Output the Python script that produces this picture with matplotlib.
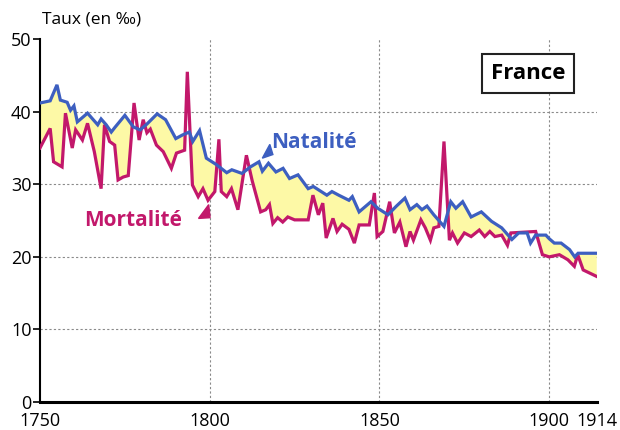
import numpy as np
import matplotlib.pyplot as plt
from matplotlib.patches import Polygon

# Natalité (taux en pour mille)
nat_years = [1750, 1753, 1755, 1756, 1758, 1759, 1760, 1761, 1764, 1767, 1768, 1769.5,
             1771, 1772, 1775, 1777.5, 1779.5, 1781.5, 1784.5, 1787, 1790, 1792, 1794,
             1795, 1797, 1799, 1802, 1805, 1806.5, 1809.5, 1812, 1814.5, 1815.5, 1817.3,
             1819.5, 1821.6, 1823.5, 1826, 1829, 1830.5, 1834.5, 1836, 1838, 1841, 1842,
             1844, 1847.5, 1849.5, 1852.5, 1855, 1857.5, 1859, 1861, 1862.5, 1864, 1866,
             1869, 1871, 1872.5, 1874.5, 1877, 1880, 1883, 1886, 1889, 1891, 1893.5,
             1894.5, 1896, 1899, 1900, 1901.5, 1903.5, 1906, 1907.5, 1908.5, 1914]
nat_vals = [41.2, 41.5, 43.7, 41.6, 41.3, 40.2, 40.8, 38.6, 39.8, 38.2, 39.0, 38.2,
            37.2, 37.8, 39.5, 37.9, 37.5, 38.3, 39.7, 38.9, 36.3, 36.8, 37.2,
            35.9, 37.4, 33.6, 32.7, 31.6, 32.0, 31.5, 32.4, 33.1, 31.8, 32.9,
            31.7, 32.2, 30.8, 31.3, 29.4, 29.7, 28.5, 29.0, 28.5, 27.8, 28.3,
            26.2, 27.6, 26.7, 25.8, 27.0, 28.1, 26.5, 27.2, 26.5, 27.0, 25.8,
            24.2, 27.6, 26.7, 27.6, 25.5, 26.2, 24.9, 24.0, 22.4, 23.3, 23.3,
            21.9, 23.0, 23.0, 22.5, 21.9, 21.9, 21.0, 20.0, 20.5, 20.5]

# Mortalité (taux en pour mille)
mor_years = [1750, 1753, 1754, 1756.5, 1757.5, 1759.5, 1760.5, 1762.5, 1764, 1766, 1768,
             1769, 1770.5, 1772, 1773, 1774.5, 1776, 1777.7, 1779.2, 1780.4, 1781.5,
             1782.5, 1784.3, 1786.3, 1788.7, 1790.2, 1792.6, 1793.4, 1794.9, 1796.6,
             1798, 1799.5, 1801.5, 1802.7, 1803.4, 1805, 1806.4, 1808.3, 1810.8, 1812.5,
             1815, 1816.5, 1817.6, 1818.6, 1820, 1821.5, 1823, 1825, 1829, 1830.4, 1832,
             1833.3, 1834.3, 1836.3, 1837.5, 1839, 1841, 1842.6, 1844, 1847, 1848.5,
             1849.3, 1851, 1853, 1854.4, 1856, 1857.8, 1859, 1860, 1862.2, 1863.5, 1865,
             1866, 1867.5, 1869, 1870.6, 1871.5, 1873, 1875, 1877, 1879.4, 1881, 1882.5,
             1884, 1886, 1887.7, 1888.7, 1896, 1898, 1900, 1903, 1905.5, 1907.4, 1908.4,
             1910, 1914]
mor_vals = [35.0, 37.7, 33.1, 32.4, 39.8, 35.0, 37.5, 36.1, 38.4, 34.5, 29.4,
            38.2, 35.9, 35.4, 30.6, 31.0, 31.2, 41.2, 36.1, 38.9, 37.1,
            37.6, 35.4, 34.5, 32.2, 34.3, 34.7, 45.5, 29.9, 28.3,
            29.4, 27.8, 29.0, 36.2, 29.0, 28.3, 29.4, 26.5, 34.0, 30.5,
            26.2, 26.5, 27.2, 24.6, 25.4, 24.8, 25.5, 25.1, 25.1, 28.5, 25.8,
            27.4, 22.6, 25.3, 23.5, 24.5, 23.8, 21.9, 24.4, 24.4, 28.8,
            22.8, 23.5, 27.6, 23.3, 24.8, 21.4, 23.5, 22.3, 25.1, 24.0, 22.3,
            24.0, 24.2, 35.9, 22.3, 23.3, 21.9, 23.3, 22.8, 23.7, 22.8, 23.5,
            22.8, 23.0, 21.6, 23.3, 23.5, 20.3, 20.0, 20.3, 19.6, 18.7, 20.3,
            18.2, 17.3]

x_ticks = [1750, 1800, 1850, 1900, 1914]
y_ticks = [0, 10, 20, 30, 40, 50]

BLUE = "#3d5fc0"
RED = "#c2186b"
YELLOW = "#fdf9a6"

plt.rcParams['font.family'] = ['Open Sans', 'DejaVu Sans']

fig = plt.figure(figsize=(6.2, 4.3), dpi=100)
ax = fig.add_axes([0.0645, 0.065, 0.898, 0.844])

# zone jaune là où natalité > mortalité
grid_x = np.union1d(nat_years, mor_years)
n_i = np.interp(grid_x, nat_years, nat_vals)
m_i = np.interp(grid_x, mor_years, mor_vals)
ax.fill_between(grid_x, m_i, n_i, where=n_i >= m_i, interpolate=True,
                color=YELLOW, linewidth=0, zorder=1)

ax.plot(mor_years, mor_vals, color=RED, lw=2.3, zorder=3, solid_joinstyle="miter")
ax.plot(nat_years, nat_vals, color=BLUE, lw=2.3, zorder=4, solid_joinstyle="miter")

ax.set_xlim(1750, 1914)
ax.set_ylim(0, 50)
ax.set_xticks(x_ticks)
ax.set_yticks(y_ticks)
ax.tick_params(axis="x", length=0, labelsize=13, pad=7)
ax.tick_params(axis="y", length=5, width=1.2, direction="out", labelsize=13, pad=1)

for v in [10, 20, 30, 40]:
    ax.axhline(v, color="#8a8a8a", lw=0.8, ls=(0, (2, 2)), zorder=0)
for yr in [1800, 1850, 1900]:
    ax.axvline(yr, color="#8a8a8a", lw=0.8, ls=(0, (2, 2)), zorder=0)

for side in ["top", "right"]:
    ax.spines[side].set_visible(False)
ax.spines["left"].set_linewidth(1.5)
ax.spines["bottom"].set_linewidth(2.2)

fig.text(0.068, 0.955, "Taux (en ‰)", fontsize=12.5, ha="left", va="center")

ax.text(1818, 35.8, "Natalité", color=BLUE, fontsize=15, fontweight="bold",
        ha="left", va="center")
ax.text(1777.5, 25.0, "Mortalité", color=RED, fontsize=15, fontweight="bold",
        ha="center", va="center")

# petits triangles indicateurs
ax.add_patch(Polygon([[1815.5, 33.6], [1818.6, 34.1], [1817.7, 35.5]], closed=True,
                     color=BLUE, zorder=5, clip_on=False))
ax.add_patch(Polygon([[1796.7, 25.3], [1799.7, 27.2], [1800.1, 25.4]], closed=True,
                     color=RED, zorder=5, clip_on=False))

ax.text(1893.8, 45.3, "France", fontsize=16, fontweight="bold", ha="center", va="center",
        bbox=dict(boxstyle="square,pad=0.4", fc="white", ec="#222222", lw=1.5), zorder=6)

fig.savefig("out.png", dpi=100)
